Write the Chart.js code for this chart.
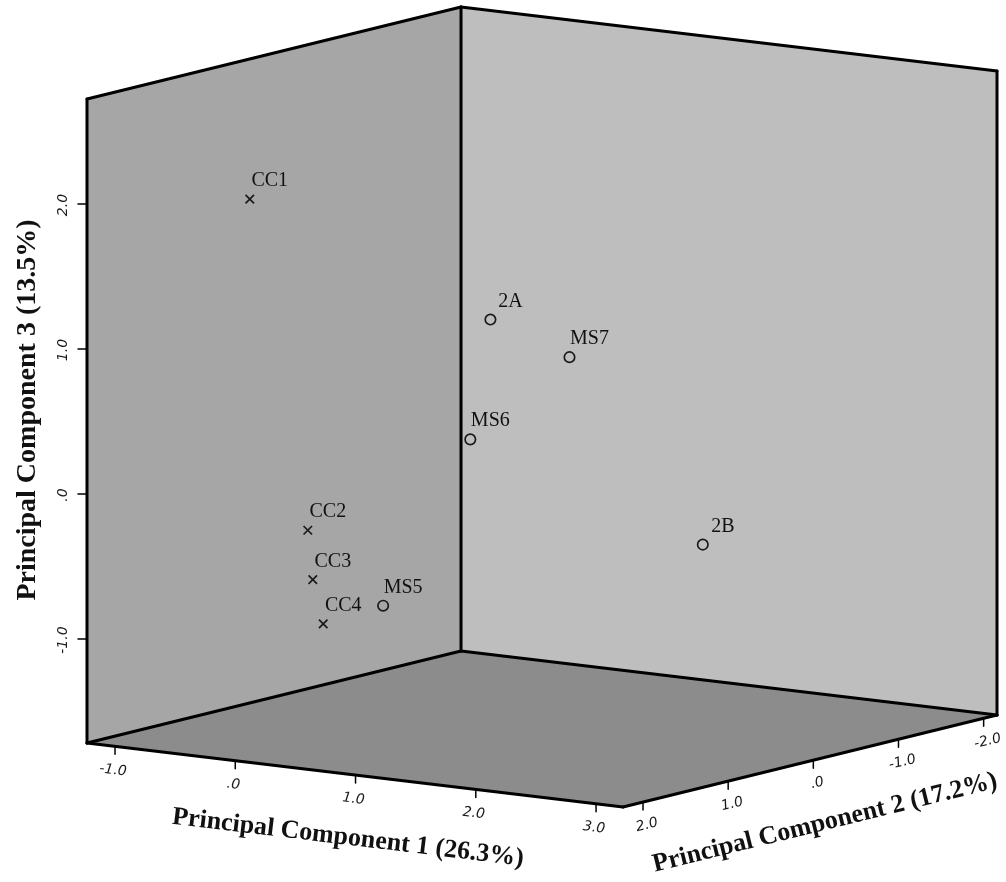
<!DOCTYPE html>
<html>
<head>
<meta charset="utf-8">
<script src="https://cdn.jsdelivr.net/npm/chart.js@4/dist/chart.umd.min.js"></script>
<style>
  html, body { margin: 0; padding: 0; background: #ffffff; }
  #wrap { width: 1006px; height: 882px; }
</style>
</head>
<body>
<div id="wrap"><canvas id="chart" width="1006" height="882"></canvas></div>
<script>
// Sample scores on the first three principal components
const sampleNames = ['CC1', 'CC2', 'CC3', 'CC4', 'MS5', 'MS6', 'MS7', '2A', '2B'];
const pc1Scores   = [-0.40, -0.13, -0.23, 0.14, -0.07, 0.23, 0.63, -0.24, 1.88];
const pc2Scores   = [ 1.50,  1.20,  1.00, 1.40,  0.40, -0.20, -0.80, -1.10, -0.60];
const pc3Scores   = [ 2.01, -0.29, -0.67, -0.88, -0.92, 0.17, 0.69, 0.82, -0.45];

// Axis extents and tick values
const pc1Range = [-1.233, 3.224];
const pc2Range = [-2.157, 2.235];
const pc3Range = [-1.717, 2.724];
const pc1Ticks = [-1, 0, 1, 2, 3];
const pc2Ticks = [-2, -1, 0, 1, 2];
const pc3Ticks = [-1, 0, 1, 2];
const axisTitles = ['Principal Component 1 (26.3%)', 'Principal Component 2 (17.2%)', 'Principal Component 3 (13.5%)'];

// Oblique view of the box: where the (pc1 min, pc2 max, pc3 min) corner sits,
// and how far one unit along each component moves across the view.
const VIEW = {
  anchor: { x: 87, y: 743 },
  u1: { x: 120.26, y: 14.36 },
  u2: { x: -85.16, y: 20.95 },
  u3: { x: 0, y: -145.0 }
};

function project(p1, p2, p3) {
  const d1 = p1 - pc1Range[0], d2 = p2 - pc2Range[1], d3 = p3 - pc3Range[0];
  return {
    x: VIEW.anchor.x + d1 * VIEW.u1.x + d2 * VIEW.u2.x + d3 * VIEW.u3.x,
    y: VIEW.anchor.y + d1 * VIEW.u1.y + d2 * VIEW.u2.y + d3 * VIEW.u3.y
  };
}

const fmtTick = v => (v === 0 ? '.0' : v.toFixed(1));

const points = sampleNames.map((n, i) => {
  const v = project(pc1Scores[i], pc2Scores[i], pc3Scores[i]);
  return { x: v.x, y: v.y, name: n };
});
const styles = sampleNames.map(n => (n.startsWith('CC') ? 'crossRot' : 'circle'));

// Draws the three walls of the box, its edges, ticks and axis titles
const boxPlugin = {
  id: 'box3d',
  beforeDatasetsDraw(chart) {
    const ctx = chart.ctx;
    const xs = chart.scales.x, ys = chart.scales.y;
    const px = (p1, p2, p3) => {
      const v = project(p1, p2, p3);
      return { x: xs.getPixelForValue(v.x), y: ys.getPixelForValue(v.y) };
    };
    const [a0, a1] = pc1Range, [b0, b1] = pc2Range, [c0, c1] = pc3Range;
    const L = px(a0, b1, c0), B = px(a0, b0, c0), R = px(a1, b0, c0), F = px(a1, b1, c0);
    const Lt = px(a0, b1, c1), Bt = px(a0, b0, c1), Rt = px(a1, b0, c1);

    const poly = (pts, fill) => {
      ctx.beginPath();
      ctx.moveTo(pts[0].x, pts[0].y);
      for (let i = 1; i < pts.length; i++) ctx.lineTo(pts[i].x, pts[i].y);
      ctx.closePath();
      ctx.fillStyle = fill;
      ctx.fill();
    };
    ctx.save();
    poly([L, B, Bt, Lt], '#a6a6a6');
    poly([B, R, Rt, Bt], '#bebebe');
    poly([L, B, R, F], '#8c8c8c');

    ctx.strokeStyle = '#000';
    ctx.lineWidth = 3;
    ctx.lineJoin = 'round';
    ctx.lineCap = 'round';
    const seg = (p, q) => { ctx.beginPath(); ctx.moveTo(p.x, p.y); ctx.lineTo(q.x, q.y); ctx.stroke(); };
    [[Lt, L], [L, F], [F, R], [R, Rt], [Rt, Bt], [Bt, Lt], [Bt, B], [B, L], [B, R]].forEach(e => seg(e[0], e[1]));

    // ticks and tick labels
    ctx.lineWidth = 1.5;
    ctx.fillStyle = '#1a1a1a';
    ctx.font = 'italic 14px "DejaVu Sans"';
    ctx.textAlign = 'center';
    ctx.textBaseline = 'middle';
    const label = (txt, x, y, ang) => {
      ctx.save(); ctx.translate(x, y); ctx.rotate(ang); ctx.fillText(txt, 0, 0); ctx.restore();
    };
    const ang1 = Math.atan2(VIEW.u1.y, VIEW.u1.x);
    const ang2 = Math.atan2(-VIEW.u2.y, -VIEW.u2.x);
    pc1Ticks.forEach(t => {
      const p = px(t, b1, c0);
      seg({ x: p.x, y: p.y }, { x: p.x, y: p.y + 8 });
      label(fmtTick(t), p.x - 2, p.y + 24, ang1);
    });
    pc2Ticks.forEach(t => {
      const p = px(a1, t, c0);
      seg({ x: p.x, y: p.y }, { x: p.x, y: p.y + 8 });
      label(fmtTick(t), p.x + 4, p.y + 23, ang2);
    });
    pc3Ticks.forEach(t => {
      const p = px(a0, b1, t);
      seg({ x: p.x, y: p.y }, { x: p.x - 9, y: p.y });
      label(fmtTick(t), p.x - 24, p.y + 1, -Math.PI / 2);
    });

    // axis titles
    ctx.fillStyle = '#111';
    ctx.font = 'bold 26px "Liberation Serif"';
    const m1 = px((a0 + a1) / 2, b1, c0);
    label(axisTitles[0], m1.x - 7, m1.y + 63, ang1);
    const m2 = px(a1, (b0 + b1) / 2, c0);
    label(axisTitles[1], m2.x + 15, m2.y + 62, ang2);
    const m3 = px(a0, b1, (c0 + c1) / 2);
    ctx.font = 'bold 28px "Liberation Serif"';
    label(axisTitles[2], m3.x - 59, m3.y - 11, -Math.PI / 2);
    ctx.restore();
  },
  afterDatasetsDraw(chart) {
    const ctx = chart.ctx;
    ctx.save();
    ctx.fillStyle = '#111';
    ctx.font = '20px "Liberation Serif"';
    ctx.textAlign = 'center';
    ctx.textBaseline = 'alphabetic';
    chart.getDatasetMeta(0).data.forEach((el, i) => {
      ctx.fillText(sampleNames[i], el.x + 20, el.y - 13);
    });
    ctx.restore();
  }
};

new Chart(document.getElementById('chart'), {
  type: 'scatter',
  data: {
    datasets: [{
      label: 'Samples',
      data: points,
      pointStyle: styles,
      pointRadius: sampleNames.map(n => (n.startsWith('CC') ? 6 : 5.2)),
      borderWidth: 1.7,
      borderColor: '#1a1a1a',
      backgroundColor: 'rgba(0,0,0,0)',
      showLine: false,
      clip: false
    }]
  },
  options: {
    responsive: false,
    animation: false,
    layout: { padding: 0, autoPadding: false },
    plugins: { legend: { display: false }, tooltip: { enabled: false } },
    scales: {
      x: { type: 'linear', min: 0, max: 1006, display: false },
      y: { type: 'linear', min: 0, max: 882, reverse: true, display: false }
    }
  },
  plugins: [boxPlugin]
});
</script>
</body>
</html>
